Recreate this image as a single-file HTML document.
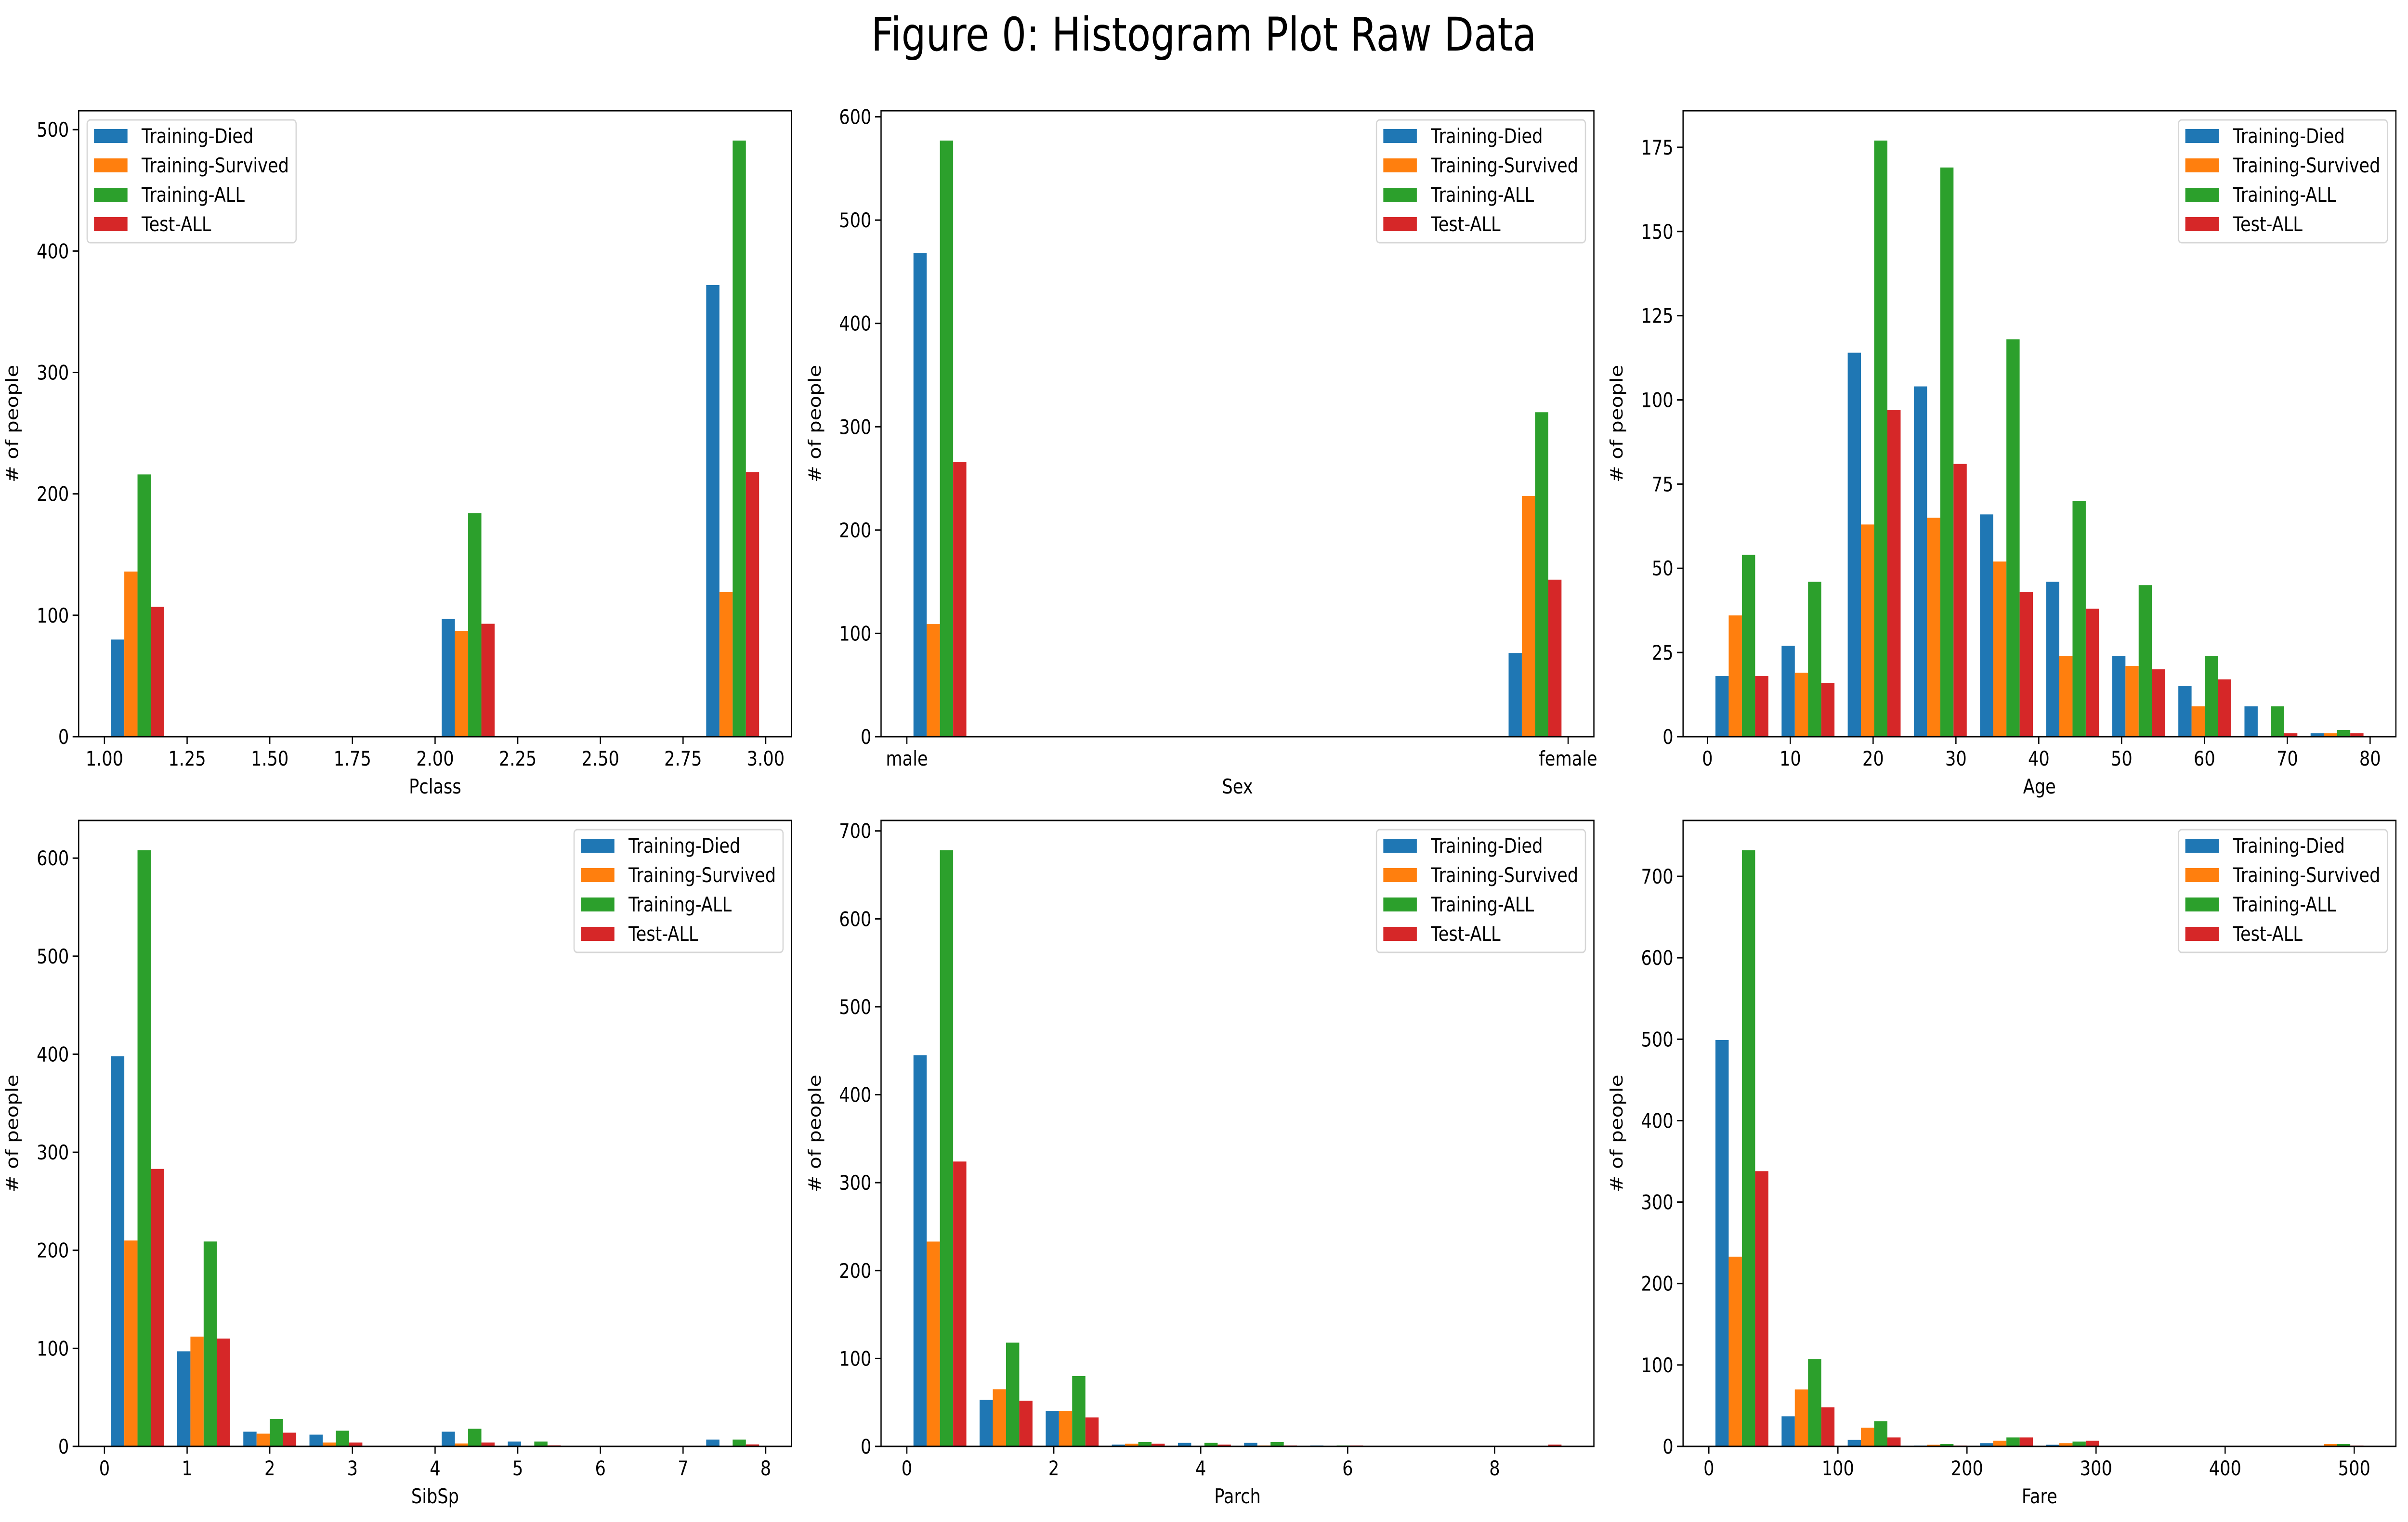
<!DOCTYPE html>
<html><head><meta charset="utf-8"><style>
html,body{margin:0;padding:0;background:#fff;overflow:hidden;width:100%;height:100%;}
svg{display:block;position:fixed;left:0;top:0;width:100vw;height:100vh;font-family:"DejaVu Sans","Liberation Sans",sans-serif;}
</style></head><body>
<svg id="fig" viewBox="0 0 5969 3161" preserveAspectRatio="none" xmlns="http://www.w3.org/2000/svg">
<rect width="5969" height="3161" fill="#fff"/>
<text x="2984" y="105" font-size="96" text-anchor="middle">Figure 0: Histogram Plot Raw Data</text>
</svg>
<script>
const seriesNames = ["Training-Died","Training-Survived","Training-ALL","Test-ALL"];
const colors = ["#1f77b4","#ff7f0e","#2ca02c","#d62728"];

const pclassEdges = [1.0, 3.0];
const pclassDied = [80,0,0,0,0,97,0,0,0,372];
const pclassSurv = [136,0,0,0,0,87,0,0,0,119];
const pclassAll = [216,0,0,0,0,184,0,0,0,491];
const pclassTest = [107,0,0,0,0,93,0,0,0,218];
const pclassXTicks = [1.0,1.25,1.5,1.75,2.0,2.25,2.5,2.75,3.0];
const pclassXLabels = ["1.00","1.25","1.50","1.75","2.00","2.25","2.50","2.75","3.00"];
const pclassYTicks = [0,100,200,300,400,500];

const sexEdges = [0, 1];
const sexDied = [468,0,0,0,0,0,0,0,0,81];
const sexSurv = [109,0,0,0,0,0,0,0,0,233];
const sexAll = [577,0,0,0,0,0,0,0,0,314];
const sexTest = [266,0,0,0,0,0,0,0,0,152];
const sexXTicks = [0,1];
const sexXLabels = ["male","female"];
const sexYTicks = [0,100,200,300,400,500,600];

const ageEdges = [0.17, 80];
const ageDied = [18,27,114,104,66,46,24,15,9,1];
const ageSurv = [36,19,63,65,52,24,21,9,0,1];
const ageAll = [54,46,177,169,118,70,45,24,9,2];
const ageTest = [18,16,97,81,43,38,20,17,1,1];
const ageXTicks = [0,10,20,30,40,50,60,70,80];
const ageXLabels = ["0","10","20","30","40","50","60","70","80"];
const ageYTicks = [0,25,50,75,100,125,150,175];

const sibspEdges = [0, 8];
const sibspDied = [398,97,15,12,0,15,5,0,0,7];
const sibspSurv = [210,112,13,4,0,3,0,0,0,0];
const sibspAll = [608,209,28,16,0,18,5,0,0,7];
const sibspTest = [283,110,14,4,0,4,1,0,0,2];
const sibspXTicks = [0,1,2,3,4,5,6,7,8];
const sibspXLabels = ["0","1","2","3","4","5","6","7","8"];
const sibspYTicks = [0,100,200,300,400,500,600];

const parchEdges = [0, 9];
const parchDied = [445,53,40,2,4,4,1,0,0,0];
const parchSurv = [233,65,40,3,0,1,0,0,0,0];
const parchAll = [678,118,80,5,4,5,1,0,0,0];
const parchTest = [324,52,33,3,2,1,1,0,0,2];
const parchXTicks = [0,2,4,6,8];
const parchXLabels = ["0","2","4","6","8"];
const parchYTicks = [0,100,200,300,400,500,600,700];

const fareEdges = [0, 512.33];
const fareDied = [499,37,8,1,4,2,0,0,0,0];
const fareSurv = [233,70,23,2,7,4,0,0,0,3];
const fareAll = [732,107,31,3,11,6,0,0,0,3];
const fareTest = [338,48,11,1,11,7,0,0,0,1];
const fareXTicks = [0,100,200,300,400,500];
const fareXLabels = ["0","100","200","300","400","500"];
const fareYTicks = [0,100,200,300,400,500,600,700];

const NS = "http://www.w3.org/2000/svg";
const svg = document.getElementById("fig");
function mk(tag, attrs, parent){
  const e = document.createElementNS(NS, tag);
  for (const k in attrs) e.setAttribute(k, attrs[k]);
  (parent||svg).appendChild(e);
  return e;
}

const panels = [
  {key:"pclass", xlabel:"Pclass", edges:pclassEdges, data:[pclassDied,pclassSurv,pclassAll,pclassTest], xt:pclassXTicks, xl:pclassXLabels, yt:pclassYTicks, L:195, T:230, legend:"left"},
  {key:"sex", xlabel:"Sex", edges:sexEdges, data:[sexDied,sexSurv,sexAll,sexTest], xt:sexXTicks, xl:sexXLabels, yt:sexYTicks, L:2184, T:230, legend:"right"},
  {key:"age", xlabel:"Age", edges:ageEdges, data:[ageDied,ageSurv,ageAll,ageTest], xt:ageXTicks, xl:ageXLabels, yt:ageYTicks, L:4172, T:230, legend:"right"},
  {key:"sibsp", xlabel:"SibSp", edges:sibspEdges, data:[sibspDied,sibspSurv,sibspAll,sibspTest], xt:sibspXTicks, xl:sibspXLabels, yt:sibspYTicks, L:195, T:1704, legend:"right"},
  {key:"parch", xlabel:"Parch", edges:parchEdges, data:[parchDied,parchSurv,parchAll,parchTest], xt:parchXTicks, xl:parchXLabels, yt:parchYTicks, L:2184, T:1704, legend:"right"},
  {key:"fare", xlabel:"Fare", edges:fareEdges, data:[fareDied,fareSurv,fareAll,fareTest], xt:fareXTicks, xl:fareXLabels, yt:fareYTicks, L:4172, T:1704, legend:"right"}
];
const W = 1767, H = 1300, FS = 42;

panels.forEach(p => {
  const g = mk("g", {});
  
  
  const nb = p.data[0].length;
  const lo = p.edges[0], hi = p.edges[1];
  const bw = (hi - lo) / nb;
  const barW = bw * 0.8 / 4;
  const first = lo + bw * 0.1, last = hi - bw * 0.1;
  const span = last - first;
  const x0 = first - 0.05 * span, x1 = last + 0.05 * span;
  let ymax = 0;
  p.data.forEach(s => s.forEach(v => { if (v > ymax) ymax = v; }));
  const y1 = ymax * 1.05;
  const X = v => p.L + (v - x0) / (x1 - x0) * W;
  const Y = v => p.T + H - v / y1 * H;

  p.data.forEach((s, si) => {
    s.forEach((v, bi) => {
      if (v <= 0) return;
      const xa = lo + bi * bw + bw * 0.1 + si * barW;
      const r = mk("rect", {x: X(xa), y: Y(v), width: X(xa + barW) - X(xa), height: Y(0) - Y(v), fill: colors[si]}, g);
      
      
    });
  });

  const frame = mk("rect", {x: p.L, y: p.T, width: W, height: H, fill: "none", stroke: "#000", "stroke-width": 3}, g);
  
  

  p.xt.forEach((t, i) => {
    const x = X(t);
    mk("line", {x1: x, x2: x, y1: p.T + H, y2: p.T + H + 15, stroke: "#000", "stroke-width": 3}, g);
    const tx = mk("text", {x: x, y: p.T + H + 60, "font-size": FS, "text-anchor": "middle"}, g);
    tx.textContent = p.xl[i];
    
    
  });
  p.yt.forEach(t => {
    const y = Y(t);
    mk("line", {x1: p.L - 15, x2: p.L, y1: y, y2: y, stroke: "#000", "stroke-width": 3}, g);
    const ty = mk("text", {x: p.L - 24, y: y + 15, "font-size": FS, "text-anchor": "end"}, g);
    ty.textContent = String(t);
    
    
  });
  const xl = mk("text", {x: p.L + W / 2, y: p.T + H + 118, "font-size": FS, "text-anchor": "middle"}, g);
  xl.textContent = p.xlabel;
  
  
  const yx = p.L - 150, yy = p.T + H / 2;
  const yl = mk("text", {x: yx, y: yy, "font-size": FS, "text-anchor": "middle", transform: "rotate(-90 " + yx + " " + yy + ")"}, g);
  yl.textContent = "# of people";
  
  

  const lw = 518, lh = 255;
  const lx = p.legend === "left" ? p.L + 21 : p.L + W - 21 - lw;
  const ly = p.T + 19;
  const lg = mk("g", {}, g);
  
  
  mk("rect", {x: lx, y: ly, width: lw, height: lh, rx: 8, fill: "#fff", "fill-opacity": 0.8, stroke: "#d6d6d6", "stroke-width": 3}, lg);
  seriesNames.forEach((n, i) => {
    const cy = ly + 33 + i * 61;
    const ent = mk("g", {}, lg);
    
    
    mk("rect", {x: lx + 17, y: cy - 14, width: 83, height: 29, fill: colors[i]}, ent);
    const t = mk("text", {x: lx + 135, y: cy + 15, "font-size": FS}, ent);
    t.textContent = n;
  });
});
</script>
</body></html>
